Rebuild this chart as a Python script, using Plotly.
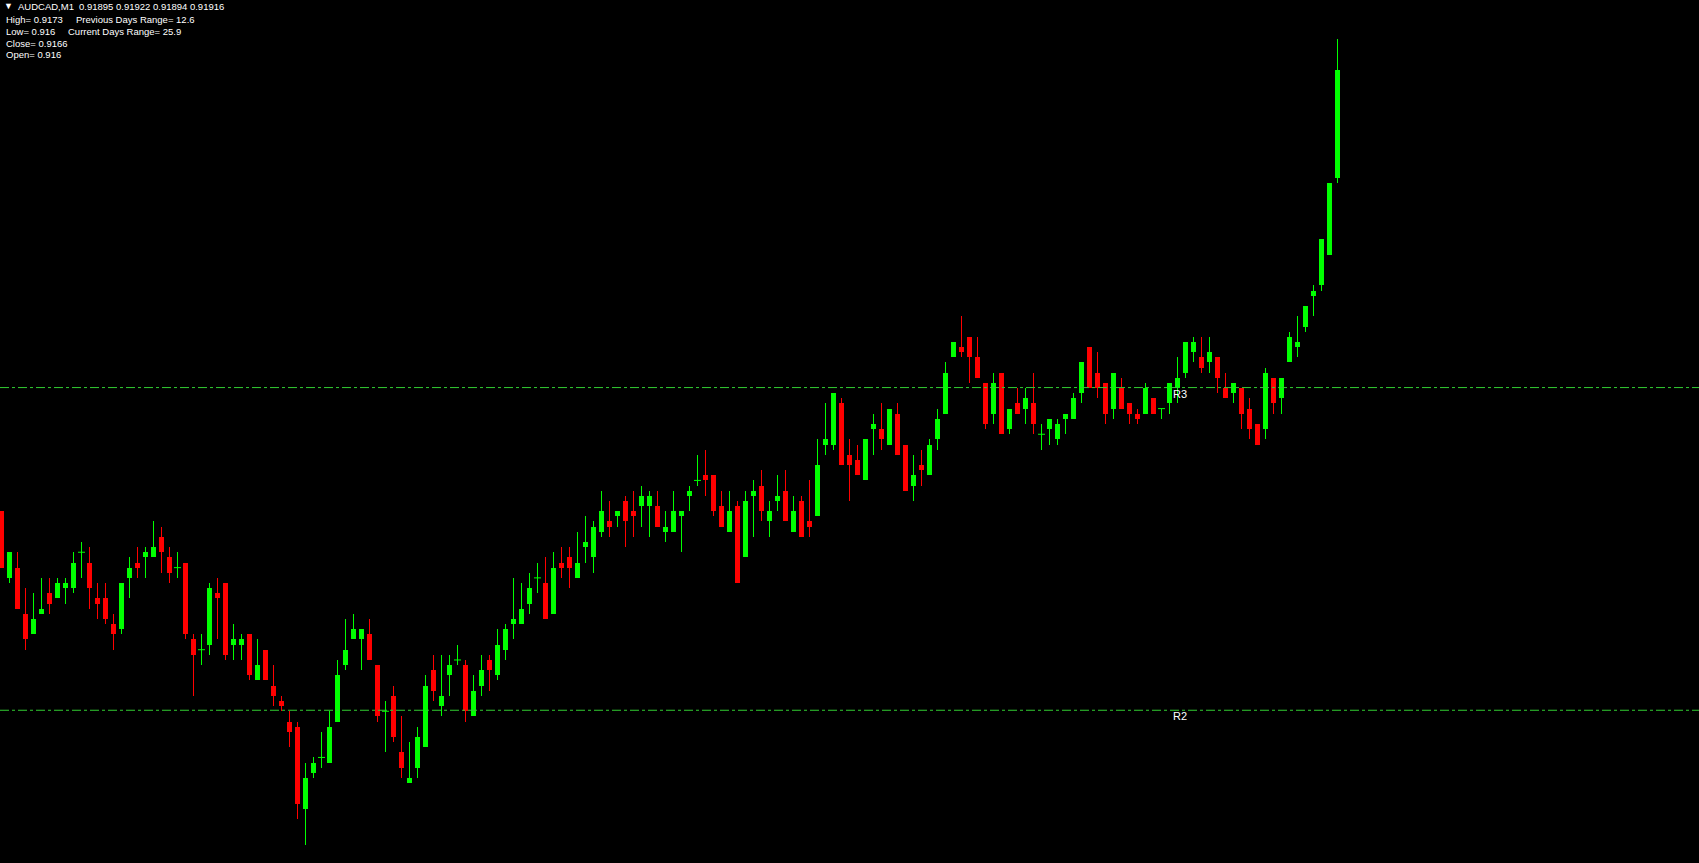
import plotly.graph_objects as go

# ---------------- data ----------------
symbol = "AUDCAD,M1"

open_ = [
    0.91830, 0.91817, 0.91819, 0.91810, 0.91806, 0.91810, 0.91814, 0.91813, 0.91815, 0.91815,
    0.91822, 0.91820, 0.91813, 0.91813, 0.91808, 0.91807, 0.91817, 0.91820, 0.91821, 0.91821,
    0.91825, 0.91821, 0.91819, 0.91820, 0.91805, 0.91803, 0.91804, 0.91814, 0.91816, 0.91804,
    0.91804, 0.91806, 0.91797, 0.91803, 0.91796, 0.91793, 0.91789, 0.91788, 0.91772, 0.91779,
    0.91782, 0.91781, 0.91789, 0.91800, 0.91805, 0.91805, 0.91806, 0.91800, 0.91791, 0.91794,
    0.91783, 0.91777, 0.91780, 0.91784, 0.91799, 0.91792, 0.91798, 0.91801, 0.91800, 0.91790,
    0.91796, 0.91801, 0.91798, 0.91803, 0.91808, 0.91808, 0.91812, 0.91817, 0.91816, 0.91810,
    0.91820, 0.91821, 0.91817, 0.91823, 0.91821, 0.91826, 0.91828, 0.91829, 0.91832, 0.91830,
    0.91831, 0.91831, 0.91831, 0.91826, 0.91826, 0.91829, 0.91833, 0.91836, 0.91837, 0.91837,
    0.91831, 0.91826, 0.91831, 0.91821, 0.91833, 0.91835, 0.91828, 0.91832, 0.91834, 0.91826,
    0.91832, 0.91828, 0.91829, 0.91843, 0.91843, 0.91851, 0.91841, 0.91840, 0.91836, 0.91846,
    0.91846, 0.91843, 0.91849, 0.91843, 0.91835, 0.91839, 0.91837, 0.91844, 0.91849, 0.91860,
    0.91862, 0.91864, 0.91860, 0.91855, 0.91849, 0.91857, 0.91846, 0.91851, 0.91850, 0.91851,
    0.91845, 0.91846, 0.91844, 0.91848, 0.91848, 0.91853, 0.91862, 0.91857, 0.91855, 0.91850,
    0.91854, 0.91851, 0.91849, 0.91849, 0.91852, 0.91850, 0.91851, 0.91854, 0.91857, 0.91861,
    0.91860, 0.91859, 0.91860, 0.91854, 0.91853, 0.91854, 0.91850, 0.91847, 0.91846, 0.91856,
    0.91852, 0.91859, 0.91862, 0.91866, 0.91872, 0.91874, 0.91880, 0.91895,
]

high_ = [
    0.91830, 0.91822, 0.91822, 0.91815, 0.91814, 0.91817, 0.91817, 0.91817, 0.91817, 0.91822,
    0.91824, 0.91823, 0.91816, 0.91816, 0.91810, 0.91816, 0.91821, 0.91823, 0.91823, 0.91828,
    0.91827, 0.91823, 0.91822, 0.91820, 0.91806, 0.91806, 0.91816, 0.91817, 0.91816, 0.91808,
    0.91806, 0.91806, 0.91805, 0.91803, 0.91800, 0.91794, 0.91791, 0.91789, 0.91781, 0.91782,
    0.91787, 0.91791, 0.91801, 0.91809, 0.91810, 0.91807, 0.91809, 0.91800, 0.91793, 0.91796,
    0.91790, 0.91785, 0.91788, 0.91798, 0.91802, 0.91802, 0.91802, 0.91804, 0.91801, 0.91798,
    0.91802, 0.91802, 0.91807, 0.91808, 0.91817, 0.91816, 0.91818, 0.91820, 0.91821, 0.91822,
    0.91823, 0.91823, 0.91826, 0.91829, 0.91828, 0.91834, 0.91832, 0.91830, 0.91833, 0.91834,
    0.91835, 0.91834, 0.91834, 0.91830, 0.91834, 0.91830, 0.91835, 0.91841, 0.91842, 0.91837,
    0.91834, 0.91834, 0.91832, 0.91834, 0.91836, 0.91838, 0.91832, 0.91837, 0.91838, 0.91833,
    0.91833, 0.91836, 0.91844, 0.91851, 0.91853, 0.91852, 0.91844, 0.91843, 0.91844, 0.91849,
    0.91851, 0.91850, 0.91851, 0.91843, 0.91841, 0.91842, 0.91844, 0.91850, 0.91859, 0.91863,
    0.91868, 0.91864, 0.91864, 0.91855, 0.91857, 0.91857, 0.91850, 0.91854, 0.91854, 0.91857,
    0.91847, 0.91848, 0.91848, 0.91849, 0.91853, 0.91859, 0.91862, 0.91861, 0.91855, 0.91857,
    0.91856, 0.91851, 0.91850, 0.91855, 0.91852, 0.91850, 0.91855, 0.91860, 0.91863, 0.91864,
    0.91864, 0.91864, 0.91860, 0.91857, 0.91855, 0.91854, 0.91852, 0.91847, 0.91858, 0.91856,
    0.91856, 0.91865, 0.91868, 0.91870, 0.91874, 0.91883, 0.91894, 0.91922,
]

low_ = [
    0.91819, 0.91816, 0.91811, 0.91803, 0.91806, 0.91810, 0.91810, 0.91813, 0.91812, 0.91814,
    0.91817, 0.91811, 0.91809, 0.91808, 0.91803, 0.91806, 0.91813, 0.91817, 0.91817, 0.91821,
    0.91818, 0.91816, 0.91817, 0.91805, 0.91794, 0.91800, 0.91802, 0.91805, 0.91801, 0.91801,
    0.91801, 0.91797, 0.91797, 0.91797, 0.91792, 0.91791, 0.91784, 0.91770, 0.91765, 0.91778,
    0.91780, 0.91781, 0.91789, 0.91799, 0.91805, 0.91799, 0.91801, 0.91789, 0.91783, 0.91785,
    0.91778, 0.91777, 0.91778, 0.91784, 0.91793, 0.91790, 0.91794, 0.91800, 0.91789, 0.91790,
    0.91794, 0.91795, 0.91797, 0.91801, 0.91805, 0.91808, 0.91810, 0.91814, 0.91809, 0.91810,
    0.91817, 0.91815, 0.91817, 0.91820, 0.91818, 0.91825, 0.91825, 0.91827, 0.91823, 0.91825,
    0.91827, 0.91825, 0.91827, 0.91824, 0.91826, 0.91822, 0.91830, 0.91835, 0.91833, 0.91829,
    0.91827, 0.91826, 0.91816, 0.91821, 0.91825, 0.91828, 0.91825, 0.91830, 0.91828, 0.91826,
    0.91825, 0.91825, 0.91829, 0.91841, 0.91842, 0.91839, 0.91832, 0.91837, 0.91836, 0.91841,
    0.91842, 0.91843, 0.91841, 0.91834, 0.91832, 0.91835, 0.91837, 0.91842, 0.91849, 0.91860,
    0.91860, 0.91855, 0.91856, 0.91846, 0.91847, 0.91845, 0.91845, 0.91849, 0.91847, 0.91845,
    0.91842, 0.91843, 0.91843, 0.91845, 0.91848, 0.91851, 0.91854, 0.91852, 0.91847, 0.91848,
    0.91850, 0.91847, 0.91847, 0.91849, 0.91849, 0.91848, 0.91849, 0.91851, 0.91856, 0.91859,
    0.91857, 0.91857, 0.91853, 0.91852, 0.91851, 0.91846, 0.91844, 0.91843, 0.91844, 0.91849,
    0.91849, 0.91859, 0.91860, 0.91865, 0.91868, 0.91873, 0.91880, 0.91894,
]

close_ = [
    0.91819, 0.91822, 0.91811, 0.91805, 0.91809, 0.91811, 0.91812, 0.91816, 0.91816, 0.91820,
    0.91822, 0.91815, 0.91812, 0.91809, 0.91806, 0.91816, 0.91819, 0.91819, 0.91822, 0.91823,
    0.91822, 0.91818, 0.91819, 0.91806, 0.91802, 0.91803, 0.91815, 0.91813, 0.91802, 0.91805,
    0.91805, 0.91798, 0.91800, 0.91797, 0.91794, 0.91792, 0.91787, 0.91773, 0.91778, 0.91781,
    0.91782, 0.91788, 0.91798, 0.91803, 0.91807, 0.91807, 0.91801, 0.91790, 0.91791, 0.91786,
    0.91780, 0.91778, 0.91786, 0.91796, 0.91795, 0.91794, 0.91800, 0.91801, 0.91791, 0.91795,
    0.91799, 0.91799, 0.91804, 0.91807, 0.91809, 0.91811, 0.91815, 0.91817, 0.91809, 0.91819,
    0.91819, 0.91819, 0.91820, 0.91824, 0.91827, 0.91830, 0.91827, 0.91830, 0.91828, 0.91829,
    0.91833, 0.91833, 0.91827, 0.91827, 0.91830, 0.91830, 0.91834, 0.91836, 0.91836, 0.91830,
    0.91827, 0.91830, 0.91816, 0.91832, 0.91834, 0.91830, 0.91830, 0.91833, 0.91828, 0.91830,
    0.91825, 0.91827, 0.91839, 0.91844, 0.91853, 0.91839, 0.91839, 0.91837, 0.91844, 0.91847,
    0.91844, 0.91850, 0.91841, 0.91834, 0.91837, 0.91838, 0.91843, 0.91848, 0.91857, 0.91863,
    0.91861, 0.91860, 0.91856, 0.91847, 0.91855, 0.91845, 0.91850, 0.91849, 0.91852, 0.91847,
    0.91845, 0.91848, 0.91847, 0.91849, 0.91852, 0.91859, 0.91854, 0.91854, 0.91849, 0.91857,
    0.91850, 0.91849, 0.91848, 0.91854, 0.91849, 0.91850, 0.91855, 0.91856, 0.91863, 0.91863,
    0.91858, 0.91861, 0.91856, 0.91852, 0.91855, 0.91849, 0.91846, 0.91843, 0.91857, 0.91851,
    0.91856, 0.91864, 0.91863, 0.91870, 0.91873, 0.91883, 0.91894, 0.91916,
]

level_names = ["R3", "R2"]
level_values = [0.918541, 0.917912]

info_left = ["High= 0.9173", "Low= 0.916", "Close= 0.9166", "Open= 0.916"]
info_right = ["Previous Days Range= 12.6", "Current Days Range= 25.9"]

# ---------------- layout / style constants ----------------
W, H = 1699, 863
PX_PER_BAR = 8.0
PX_PER_PRICE = 513000.0
Y_TOP = 0.9192965
Y_BOTTOM = Y_TOP - H / PX_PER_PRICE
X_LEFT = -1.5 / PX_PER_BAR

BULL = "#00FF00"
BEAR = "#FF0000"
LEVEL_COLOR = "#32CD32"
FONT = "Liberation Sans, Arial, sans-serif"

n = len(close_)
idx = list(range(n))
colors = [BULL if c >= o else BEAR for o, c in zip(open_, close_)]

fig = go.Figure()

# wicks
fig.add_trace(go.Bar(
    x=idx, base=low_, y=[h - l for h, l in zip(high_, low_)],
    width=1.0 / PX_PER_BAR,
    marker=dict(color=colors, line=dict(width=0)),
    hoverinfo="skip",
))

# bodies
body_idx = [i for i in idx if close_[i] != open_[i]]
fig.add_trace(go.Bar(
    x=body_idx,
    base=[min(open_[i], close_[i]) for i in body_idx],
    y=[abs(close_[i] - open_[i]) for i in body_idx],
    width=5.0 / PX_PER_BAR,
    marker=dict(color=[colors[i] for i in body_idx], line=dict(width=0)),
    hoverinfo="skip",
))

# doji (open == close)
doji_idx = [i for i in idx if close_[i] == open_[i]]
fig.add_trace(go.Scatter(
    x=doji_idx, y=[close_[i] for i in doji_idx], mode="markers",
    marker=dict(symbol="line-ew", size=5, line=dict(width=1, color=BULL)),
    hoverinfo="skip",
))

shapes = []
annotations = []
for name, val in zip(level_names, level_values):
    shapes.append(dict(type="line", xref="paper", x0=0, x1=1, yref="y", y0=val, y1=val,
                       line=dict(color=LEVEL_COLOR, width=1, dash="9px,3px,3px,3px")))
    annotations.append(dict(xref="paper", x=1171 / W, yref="y", y=val, yshift=-6,
                            xanchor="left", yanchor="middle", showarrow=False, text=name,
                            font=dict(family=FONT, size=11, color="white")))

def txt(s, px, py, size=9.5):
    annotations.append(dict(xref="paper", yref="paper", x=px / W, y=1 - py / H,
                            xanchor="left", yanchor="middle", showarrow=False, text=s,
                            font=dict(family=FONT, size=size, color="white")))

header_vals = " ".join(f"{v:.5f}" for v in (open_[-1], high_[-1], low_[-1], close_[-1]))
txt("\u25BC", 2, 6, size=9)
txt(symbol, 16, 6.5)
txt(header_vals, 77, 6.5)
rows_y = [19, 31.5, 43.5, 55]
for s, py in zip(info_left, rows_y):
    txt(s, 4, py)
txt(info_right[0], 74, rows_y[0])
txt(info_right[1], 66, rows_y[1])

fig.update_layout(
    width=W, height=H, autosize=False,
    margin=dict(l=0, r=0, t=0, b=0, pad=0),
    paper_bgcolor="black", plot_bgcolor="black",
    showlegend=False, barmode="overlay", bargap=0,
    hovermode=False,
    xaxis=dict(range=[X_LEFT, X_LEFT + W / PX_PER_BAR], visible=False, showgrid=False, zeroline=False),
    yaxis=dict(range=[Y_BOTTOM, Y_TOP], visible=False, showgrid=False, zeroline=False),
    shapes=shapes, annotations=annotations,
)

fig.write_html(
    "out.html",
    config={"displayModeBar": False, "staticPlot": False},
    post_script="document.body.style.margin='0';document.body.style.background='black';"
                "document.documentElement.style.background='black';document.body.style.overflow='hidden';",
)
